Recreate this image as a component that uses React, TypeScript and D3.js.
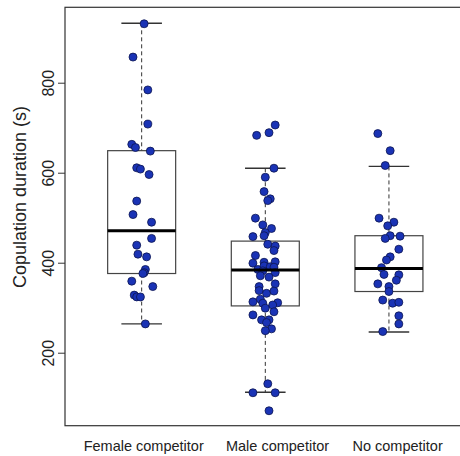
import React, { useEffect, useRef } from 'react';
import * as d3 from 'd3';

const GROUPS = ['Female competitor', 'Male competitor', 'No competitor'];

// box statistics: lower whisker, q1, median, q3, upper whisker
const WHISKER_LO = [264, 112, 246];
const Q1 = [376, 304, 336];
const MEDIAN = [471, 384, 387];
const Q3 = [649, 448, 460];
const WHISKER_HI = [932, 610, 614];

// copulation durations (s) per group and horizontal jitter (category units)
const FEMALE = [931, 857, 784, 708, 663, 656, 648, 611, 608, 596, 537, 507, 490, 454, 439, 419, 413, 385, 378, 376, 359, 347, 328, 324, 324, 264];
const FEMALE_JIT = [0.02, -0.07, 0.05, 0.05, -0.08, -0.05, 0.07, -0.04, -0.01, 0.06, -0.04, -0.07, 0.08, 0.08, -0.04, -0.03, 0.04, 0.03, 0.02, 0.01, -0.08, 0.09, -0.06, -0.04, -0.01, 0.03];

const MALE = [706, 689, 683, 610, 590, 558, 542, 538, 499, 484, 476, 467, 458, 460, 441, 437, 427, 416, 399, 401, 402, 385, 393, 391, 390, 382, 378, 371, 368, 353, 347, 338, 332, 337, 313, 319, 310, 311, 306, 299, 291, 284, 273, 273, 267, 253, 249, 131, 111, 111, 71];
const MALE_JIT = [0.08, 0.03, -0.07, 0.07, 0, -0.01, 0.04, 0.02, -0.08, -0.02, 0.05, 0, -0.1, -0.01, 0.02, 0.08, 0.07, -0.08, -0.1, -0.01, 0.08, -0.06, -0.01, 0.04, 0.07, -0.02, 0.08, -0.04, 0.03, 0.08, -0.05, -0.05, 0.01, 0.07, -0.1, -0.04, -0.02, 0.1, 0.06, 0, 0.07, -0.1, -0.03, 0.03, 0.01, 0.05, 0, 0.02, -0.1, 0.08, 0.03];

const NONE = [687, 649, 616, 499, 490, 482, 460, 459, 454, 430, 413, 406, 389, 374, 373, 361, 353, 347, 336, 317, 310, 312, 282, 264, 247];
const NONE_JIT = [-0.09, 0.01, -0.03, -0.08, 0.04, -0.01, 0.01, 0.09, -0.03, 0.08, 0.01, -0.02, -0.06, -0.04, 0.08, 0.06, -0.09, 0, 0, -0.05, 0.03, 0.08, 0.08, 0.08, -0.05];

const Y_TICKS = [200, 400, 600, 800];

export default function App() {
  const svgRef = useRef<SVGSVGElement>(null);

  useEffect(() => {
    const svg = d3.select(svgRef.current);
    svg.selectAll('*').remove();

    const font = '"Liberation Sans", Arial, sans-serif';

    const x = d3.scaleLinear().domain([0.38, 3.62]).range([65, 465.6]);
    const y = d3.scaleLinear().domain([37.8, 967.6]).range([425.7, 7.3]);
    // category labels sit a little right of the boxes in the original
    const xLabel = d3.scaleOrdinal<string, number>().domain(GROUPS).range([143.7, 277.5, 397.6]);

    const boxHalf = 0.275;
    const capHalf = 0.164;

    const groups = GROUPS.map((name, i) => ({
      name,
      pos: i + 1,
      lo: WHISKER_LO[i],
      q1: Q1[i],
      med: MEDIAN[i],
      q3: Q3[i],
      hi: WHISKER_HI[i],
    }));

    const points = [
      ...FEMALE.map((v, i) => ({ pos: 1, v, j: FEMALE_JIT[i] })),
      ...MALE.map((v, i) => ({ pos: 2, v, j: MALE_JIT[i] })),
      ...NONE.map((v, i) => ({ pos: 3, v, j: NONE_JIT[i] })),
    ];

    // plot frame
    svg.append('rect')
      .attr('x', x(0.38))
      .attr('y', y(967.6))
      .attr('width', x(3.62) - x(0.38))
      .attr('height', y(37.8) - y(967.6))
      .attr('fill', 'none')
      .attr('stroke', '#333')
      .attr('stroke-width', 1.2);

    // y axis
    const yAxis = svg.append('g')
      .attr('transform', `translate(${x(0.38)},0)`)
      .call(d3.axisLeft(y).tickValues(Y_TICKS).tickSize(7).tickSizeOuter(0).tickFormat(d3.format('d')));
    yAxis.select('.domain').remove();
    yAxis.selectAll('.tick line').attr('stroke', '#333');
    yAxis.selectAll('.tick text')
      .attr('x', null)
      .attr('dy', null)
      .attr('transform', 'translate(-11.5,0) rotate(-90)')
      .attr('text-anchor', 'middle')
      .attr('fill', '#222')
      .style('font-family', font)
      .style('font-size', '16px');

    svg.append('text')
      .attr('transform', 'translate(26,197) rotate(-90)')
      .attr('text-anchor', 'middle')
      .attr('fill', '#222')
      .style('font-family', font)
      .style('font-size', '18px')
      .text('Copulation duration (s)');

    // x labels
    svg.append('g')
      .selectAll('text')
      .data(groups)
      .enter().append('text')
      .attr('x', d => xLabel(d.name))
      .attr('y', 451)
      .attr('text-anchor', 'middle')
      .attr('fill', '#222')
      .style('font-family', font)
      .style('font-size', '14.5px')
      .text(d => d.name);

    const box = svg.append('g').selectAll('g').data(groups).enter().append('g');

    // whiskers
    box.append('line')
      .attr('x1', d => x(d.pos)).attr('x2', d => x(d.pos))
      .attr('y1', d => y(d.hi)).attr('y2', d => y(d.q3))
      .attr('stroke', '#333').attr('stroke-dasharray', '4,3');
    box.append('line')
      .attr('x1', d => x(d.pos)).attr('x2', d => x(d.pos))
      .attr('y1', d => y(d.q1)).attr('y2', d => y(d.lo))
      .attr('stroke', '#333').attr('stroke-dasharray', '4,3');
    // caps
    box.append('line')
      .attr('x1', d => x(d.pos - capHalf)).attr('x2', d => x(d.pos + capHalf))
      .attr('y1', d => y(d.hi)).attr('y2', d => y(d.hi))
      .attr('stroke', '#333').attr('stroke-width', 1.4);
    box.append('line')
      .attr('x1', d => x(d.pos - capHalf)).attr('x2', d => x(d.pos + capHalf))
      .attr('y1', d => y(d.lo)).attr('y2', d => y(d.lo))
      .attr('stroke', '#333').attr('stroke-width', 1.4);
    // box
    box.append('rect')
      .attr('x', d => x(d.pos - boxHalf))
      .attr('width', d => x(d.pos + boxHalf) - x(d.pos - boxHalf))
      .attr('y', d => y(d.q3))
      .attr('height', d => y(d.q1) - y(d.q3))
      .attr('fill', 'none')
      .attr('stroke', '#444')
      .attr('stroke-width', 1.2);

    // jittered points
    svg.append('g')
      .selectAll('circle')
      .data(points)
      .enter().append('circle')
      .attr('cx', d => x(d.pos + d.j))
      .attr('cy', d => y(d.v))
      .attr('r', 4)
      .attr('fill', '#1a33b5')
      .attr('stroke', '#0c1550')
      .attr('stroke-width', 0.8);

    // medians on top
    svg.append('g')
      .selectAll('line')
      .data(groups)
      .enter().append('line')
      .attr('x1', d => x(d.pos - boxHalf))
      .attr('x2', d => x(d.pos + boxHalf))
      .attr('y1', d => y(d.med))
      .attr('y2', d => y(d.med))
      .attr('stroke', '#000')
      .attr('stroke-width', 3);
  }, []);

  return (
    <svg
      ref={svgRef}
      width={460}
      height={456}
      style={{ position: 'absolute', left: 0, top: 0, background: '#fff' }}
    />
  );
}
